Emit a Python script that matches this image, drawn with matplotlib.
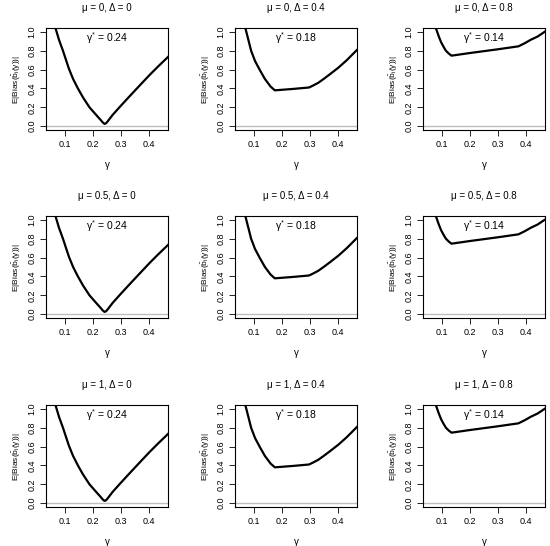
import matplotlib
matplotlib.use("Agg")
import matplotlib.pyplot as plt

plt.rcParams['font.family'] = ['Liberation Sans', 'DejaVu Sans']
plt.rcParams['mathtext.fontset'] = 'custom'
plt.rcParams['mathtext.rm'] = 'Liberation Sans'
plt.rcParams['mathtext.it'] = 'Liberation Sans:italic'

mu_values = ["0", "0.5", "1"]
delta_values = ["0", "0.4", "0.8"]
gamma_star = ["0.24", "0.18", "0.14"]

gamma_d0 = [0.06, 0.068, 0.08, 0.094, 0.105, 0.115, 0.13, 0.147, 0.165, 0.188, 0.21, 0.228,
            0.235, 0.241, 0.246, 0.252, 0.27, 0.294, 0.32, 0.345, 0.37, 0.40, 0.43, 0.47]
bias_d0 = [1.13, 1.035, 0.915, 0.80, 0.70, 0.61, 0.50, 0.40, 0.305, 0.20, 0.125, 0.065,
           0.04, 0.025, 0.03, 0.05, 0.12, 0.20, 0.285, 0.365, 0.445, 0.54, 0.63, 0.745]

gamma_d04 = [0.06, 0.071, 0.08, 0.091, 0.105, 0.121, 0.14, 0.16, 0.175, 0.24, 0.296, 0.31,
             0.329, 0.35, 0.37, 0.40, 0.43, 0.47]
bias_d04 = [1.12, 1.035, 0.93, 0.80, 0.69, 0.60, 0.50, 0.42, 0.38, 0.395, 0.41, 0.43,
            0.46, 0.505, 0.55, 0.62, 0.70, 0.82]

gamma_d08 = [0.07, 0.08, 0.09, 0.098, 0.107, 0.115, 0.125, 0.135, 0.20, 0.25, 0.30, 0.372,
             0.395, 0.416, 0.44, 0.47]
bias_d08 = [1.12, 1.035, 0.95, 0.89, 0.84, 0.80, 0.77, 0.747, 0.775, 0.795, 0.815, 0.846,
            0.88, 0.916, 0.95, 1.01]

curves_gamma = [gamma_d0, gamma_d04, gamma_d08]
curves_bias = [bias_d0, bias_d04, bias_d08]

x_ticks = [0.1, 0.2, 0.3, 0.4]
y_ticks = [0.0, 0.2, 0.4, 0.6, 0.8, 1.0]

W, H = 550, 546
fig = plt.figure(figsize=(W / 100, H / 100), dpi=100)

col_left = [46, 235, 423]
row_top = [28, 216, 405]
aw, ah = 122, 102

for r in range(3):
    for c in range(3):
        ax = fig.add_axes([col_left[c] / W, 1 - (row_top[r] + ah) / H, aw / W, ah / H])
        ax.axhline(0, color='#BEBEBE', lw=1.0, zorder=1)
        ax.plot(curves_gamma[c], curves_bias[c], color='black', lw=1.6, zorder=2,
                solid_joinstyle='round')
        ax.set_xlim(0.034, 0.466)
        ax.set_ylim(-0.04, 1.04)
        ax.set_xticks(x_ticks)
        ax.set_xticklabels([f"{t:.1f}" for t in x_ticks])
        ax.set_yticks(y_ticks)
        ax.set_yticklabels([f"{t:.1f}" for t in y_ticks], rotation=90, va='center')
        ax.tick_params(axis='both', labelsize=6.5, length=4, width=0.6, pad=3, color='black')
        for s in ax.spines.values():
            s.set_linewidth(0.8)
        ax.set_title(f"μ = {mu_values[r]}, Δ = {delta_values[c]}", fontsize=7, pad=12)
        ax.set_xlabel("γ", fontsize=7, labelpad=8)
        ax.set_ylabel(r'$\mathrm{E|Bias(\hat{b}_i(\gamma))|}$', fontsize=6, labelpad=3)
        ax.text(0.5, 0.9, r'$\mathrm{\gamma}^{*}$' + f" = {gamma_star[c]}", transform=ax.transAxes,
                ha='center', va='center', fontsize=7.5)

fig.savefig("out.png", dpi=100)
